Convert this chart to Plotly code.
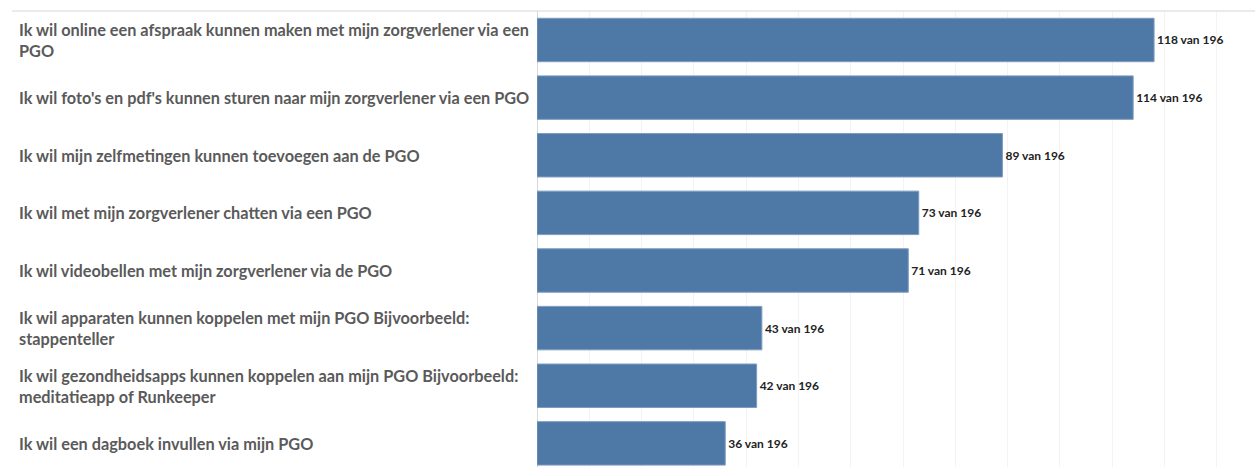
import plotly.graph_objects as go

categories = [
    "Ik wil online een afspraak kunnen maken met mijn zorgverlener via een<br>PGO",
    "Ik wil foto's en pdf's kunnen sturen naar mijn zorgverlener via een PGO",
    "Ik wil mijn zelfmetingen kunnen toevoegen aan de PGO",
    "Ik wil met mijn zorgverlener chatten via een PGO",
    "Ik wil videobellen met mijn zorgverlener via de PGO",
    "Ik wil apparaten kunnen koppelen met mijn PGO Bijvoorbeeld:<br>stappenteller",
    "Ik wil gezondheidsapps kunnen koppelen aan mijn PGO Bijvoorbeeld:<br>meditatieapp of Runkeeper",
    "Ik wil een dagboek invullen via mijn PGO",
]
counts = [118, 114, 89, 73, 71, 43, 42, 36]
totals = [196] * len(counts)

W, H = 1255, 467
L, T = 537, 11
plot_w = W - L

fig = go.Figure()
fig.add_trace(go.Bar(
    y=list(range(len(categories))),
    x=counts,
    orientation="h",
    marker=dict(color="#4E79A7", line=dict(color="#7d9cc0", width=1)),
    customdata=totals,
    texttemplate="%{x} van %{customdata}",
    textposition="outside",
    textfont=dict(family="Lato", size=12, color="#222222", weight="bold"),
    cliponaxis=False,
    hoverinfo="skip",
))

for i, c in enumerate(categories):
    fig.add_annotation(
        x=(17 - L) / plot_w, xref="paper", xanchor="left",
        y=i, yref="y", yanchor="middle",
        text=c, align="left", showarrow=False,
        font=dict(family="Lato", size=16.3, color="#5a5a5a", weight="bold"),
    )

fig.add_shape(type="line", xref="paper", yref="paper",
              x0=(12 - L) / plot_w, x1=1, y0=1, y1=1,
              line=dict(color="#d6d6d6", width=1))

fig.update_layout(
    width=W, height=H,
    margin=dict(l=L, r=0, t=T, b=0),
    paper_bgcolor="white", plot_bgcolor="white",
    bargap=0.246,
    showlegend=False,
    xaxis=dict(range=[0, 137.3], dtick=10, showgrid=True, gridcolor="#f3f3f3",
               showticklabels=False, zeroline=True, zerolinecolor="#d8d8d8",
               zerolinewidth=1, fixedrange=True),
    yaxis=dict(range=[7.41, -0.503], showticklabels=False, showgrid=False,
               zeroline=False, fixedrange=True),
)

fig.write_html("out.html", config={"displayModeBar": False},
               post_script="document.body.style.margin='0';document.body.style.overflow='hidden';")
